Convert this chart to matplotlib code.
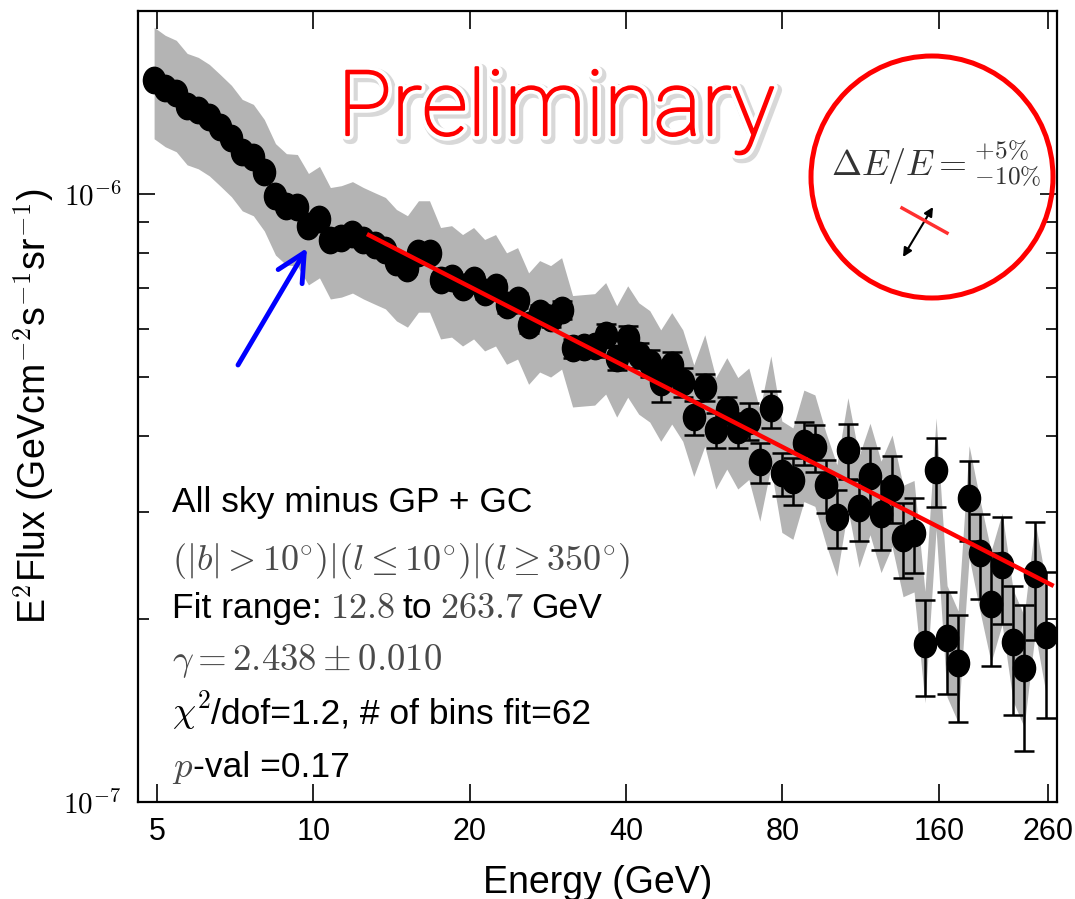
import numpy as np
import matplotlib
matplotlib.use("Agg")
import matplotlib.pyplot as plt
from matplotlib import font_manager, patches, patheffects as pe
from matplotlib.lines import Line2D
from matplotlib.path import Path
from matplotlib.transforms import Affine2D
from matplotlib.ticker import LogLocator, NullFormatter

# bin centres (GeV), 5% wide log bins
energy = [4.94, 5.19, 5.45, 5.72, 6.01, 6.31, 6.62, 6.96, 7.30, 7.67,
          8.05, 8.46, 8.88, 9.32, 9.79, 10.28, 10.79, 11.33, 11.90, 12.49,
          13.12, 13.77, 14.46, 15.18, 15.94, 16.74, 17.58, 18.46, 19.38, 20.35,
          21.37, 22.43, 23.55, 24.73, 25.97, 27.27, 28.63, 30.06, 31.56, 33.14,
          34.80, 36.54, 38.37, 40.29, 42.30, 44.42, 46.64, 48.97, 51.42, 53.99,
          56.69, 59.52, 62.50, 65.62, 68.91, 72.35, 75.97, 79.77, 83.76, 87.95,
          92.34, 96.96, 101.8, 106.9, 112.3, 117.9, 123.8, 130.0, 136.5, 143.3,
          150.4, 158.0, 165.9, 174.2, 182.9, 192.0, 201.6, 211.7, 222.3, 233.4,
          245.1, 257.3]

# E^2 flux in units of 1e-6 GeV cm^-2 s^-1 sr^-1
flux = [1.541, 1.495, 1.467, 1.396, 1.375, 1.339, 1.289, 1.237, 1.173, 1.151,
        1.087, 0.992, 0.955, 0.952, 0.886, 0.910, 0.840, 0.846, 0.859, 0.840,
        0.824, 0.809, 0.773, 0.755, 0.799, 0.799, 0.722, 0.727, 0.703, 0.722,
        0.690, 0.703, 0.656, 0.669, 0.608, 0.637, 0.625, 0.644, 0.558, 0.560,
        0.562, 0.586, 0.537, 0.579, 0.543, 0.527, 0.490, 0.523, 0.490, 0.429,
        0.481, 0.409, 0.441, 0.409, 0.424, 0.362, 0.444, 0.347, 0.338, 0.390,
        0.383, 0.332, 0.294, 0.379, 0.304, 0.344, 0.298, 0.329, 0.272, 0.277,
        0.182, 0.351, 0.186, 0.169, 0.316, 0.257, 0.212, 0.245, 0.183, 0.166,
        0.237, 0.188]

# relative statistical errors
rel_err = [0.010, 0.010, 0.010, 0.010, 0.010, 0.010, 0.010, 0.010, 0.010, 0.010,
           0.012, 0.012, 0.013, 0.013, 0.014, 0.014, 0.015, 0.015, 0.016, 0.016,
           0.018, 0.018, 0.019, 0.020, 0.020, 0.021, 0.022, 0.023, 0.024, 0.025,
           0.026, 0.027, 0.028, 0.029, 0.030, 0.031, 0.033, 0.034, 0.036, 0.038,
           0.040, 0.042, 0.044, 0.046, 0.048, 0.050, 0.070, 0.050, 0.055, 0.065,
           0.050, 0.065, 0.050, 0.065, 0.070, 0.075, 0.070, 0.080, 0.090, 0.080,
           0.090, 0.100, 0.110, 0.105, 0.115, 0.110, 0.130, 0.125, 0.140, 0.140,
           0.180, 0.130, 0.190, 0.200, 0.150, 0.160, 0.210, 0.200, 0.240, 0.270,
           0.220, 0.270]

# systematic band (energy scale) as multiplicative factors
band_hi = 1.22
band_lo = 0.80

# power-law fit
fit_range = [12.8, 263.7]
fit_norm = 0.856   # at 12.8 GeV, 1e-6 units
gamma = 2.438

xticks = [5, 10, 20, 40, 80, 160, 260]
xtick_labels = ["5", "10", "20", "40", "80", "160", "260"]

W, H = 1075, 899


def fx(x):
    return x / W


def fy(y):
    return 1 - y / H


names = {f.name for f in font_manager.fontManager.ttflist}
sans = "Liberation Sans" if "Liberation Sans" in names else "DejaVu Sans"

plt.rcParams["mathtext.fontset"] = "cm"
plt.rcParams["font.family"] = [sans, "DejaVu Sans"]

fig = plt.figure(figsize=(W / 100, H / 100), dpi=100)
ax = fig.add_axes([138 / W, 1 - 802 / H, (1057 - 138) / W, (802 - 11) / H])

e = np.array(energy)
f = np.array(flux) * 1e-6
err = f * np.array(rel_err)

# slightly tall dots, like the original
dot = Path.unit_circle().transformed(Affine2D().scale(0.84, 1.0))

ax.fill_between(e, f * band_hi, f * band_lo, color="#b4b4b4", lw=0, zorder=1)
ax.errorbar(e, f, yerr=err, fmt="none", ecolor="black", elinewidth=1.8,
            capsize=7, capthick=1.8, zorder=2)
ax.plot(e, f, ls="none", marker=dot, ms=19, color="black", zorder=2)

fe = np.array(fit_range)
ff = fit_norm * 1e-6 * (fe / fit_range[0]) ** (2 - gamma)
ax.plot(fe, ff, color="red", lw=3.2, zorder=3)

ax.set_xscale("log")
ax.set_yscale("log")
ax.set_xlim(4.6, 270)
ax.set_ylim(1e-7, 2e-6)

ax.set_xticks(xticks, xtick_labels, fontsize=22)
ax.set_xticks([], minor=True)
ax.set_yticks([1e-7, 1e-6], [r"$10^{-7}$", r"$10^{-6}$"], fontsize=21)
ax.yaxis.set_minor_locator(LogLocator(base=10, subs=np.arange(2, 10)))
ax.yaxis.set_minor_formatter(NullFormatter())

ax.tick_params(which="both", direction="in", top=True, right=True, width=1.2)
ax.tick_params(axis="x", which="major", length=13, pad=11)
ax.tick_params(axis="y", which="major", length=12, pad=12)
ax.tick_params(axis="y", which="minor", length=8)
for s in ax.spines.values():
    s.set_linewidth(1.6)

ax.set_xlabel("Energy (GeV)", fontsize=27)
ax.xaxis.set_label_coords(0.5, -0.080)
ax.set_ylabel(r"E$^2$Flux (GeVcm$^{-2}$s$^{-1}$sr$^{-1}$)", fontsize=27)
ax.yaxis.set_label_coords(-0.089, 0.5)

# text block, built piece by piece
renderer = fig.canvas.get_renderer()
math_col = "#4a4a4a"


def put_line(x_px, y_px, pieces):
    x = x_px
    for s, size, col, gap in pieces:
        t = fig.text(fx(x), fy(y_px), s, fontsize=size, color=col,
                     ha="left", va="baseline")
        bb = t.get_window_extent(renderer)
        x = bb.x1 + gap


put_line(172, 512, [("All sky minus GP + GC", 25.5, "black", 0)])
put_line(172, 570, [(r"$(|b|>10^{\circ})|(l\leq10^{\circ})|(l\geq350^{\circ})$",
                     26, math_col, 0)])
put_line(172, 618, [("Fit range:", 25.5, "black", 8),
                    (r"$12.8$", 26, math_col, 8),
                    ("to", 25.5, "black", 8),
                    (r"$263.7$", 26, math_col, 8),
                    ("GeV", 25.5, "black", 0)])
put_line(172, 670, [(r"$\gamma = 2.438 \pm 0.010$", 26.5, math_col, 0)])
put_line(172, 723, [(r"$\chi^2$", 26.5, "black", 0),
                    ("/dof=1.2, # of bins fit=62", 25.5, "black", 0)])
put_line(172, 777, [(r"$p$", 26.5, math_col, 0),
                    ("-val =0.17", 25.5, "black", 0)])

# annotations on top
fig.text(fx(556), fy(135), "Preliminary", fontsize=65,
         fontfamily=["Roboto", "Lato", "DejaVu Sans"], fontweight="light",
         color="red", ha="center", va="baseline",
         path_effects=[pe.Stroke(offset=(2, -2), linewidth=9, foreground="#c8c8c8", alpha=0.7),
                       pe.Stroke(linewidth=7, foreground="white"),
                       pe.Stroke(linewidth=1.6, foreground="red"),
                       pe.Normal()])

fig.add_artist(patches.Ellipse((fx(932), fy(177)), 242 / W, 242 / H,
                               transform=fig.transFigure, fill=False,
                               ec="red", lw=3.6))
fig.text(fx(831), fy(176), r"$\Delta E/E =^{+5\%}_{-10\%}$", fontsize=26,
         color="#333333", ha="left", va="baseline")
fig.add_artist(Line2D([fx(902), fx(947)], [fy(208), fy(233)],
                      transform=fig.transFigure, color="#ff3030", lw=2.5))
fig.add_artist(patches.FancyArrowPatch((fx(903), fy(257)), (fx(933), fy(207)),
                                       transform=fig.transFigure, arrowstyle="<|-|>",
                                       mutation_scale=13, lw=1.5, color="black",
                                       shrinkA=0, shrinkB=0))

fig.add_artist(patches.FancyArrowPatch((fx(238), fy(365)), (fx(307), fy(248)),
                                       transform=fig.transFigure,
                                       arrowstyle="->,head_length=0.4,head_width=0.2",
                                       mutation_scale=50, lw=3.5, color="blue",
                                       shrinkA=0, shrinkB=0))

fig.savefig("out.png", dpi=100)
